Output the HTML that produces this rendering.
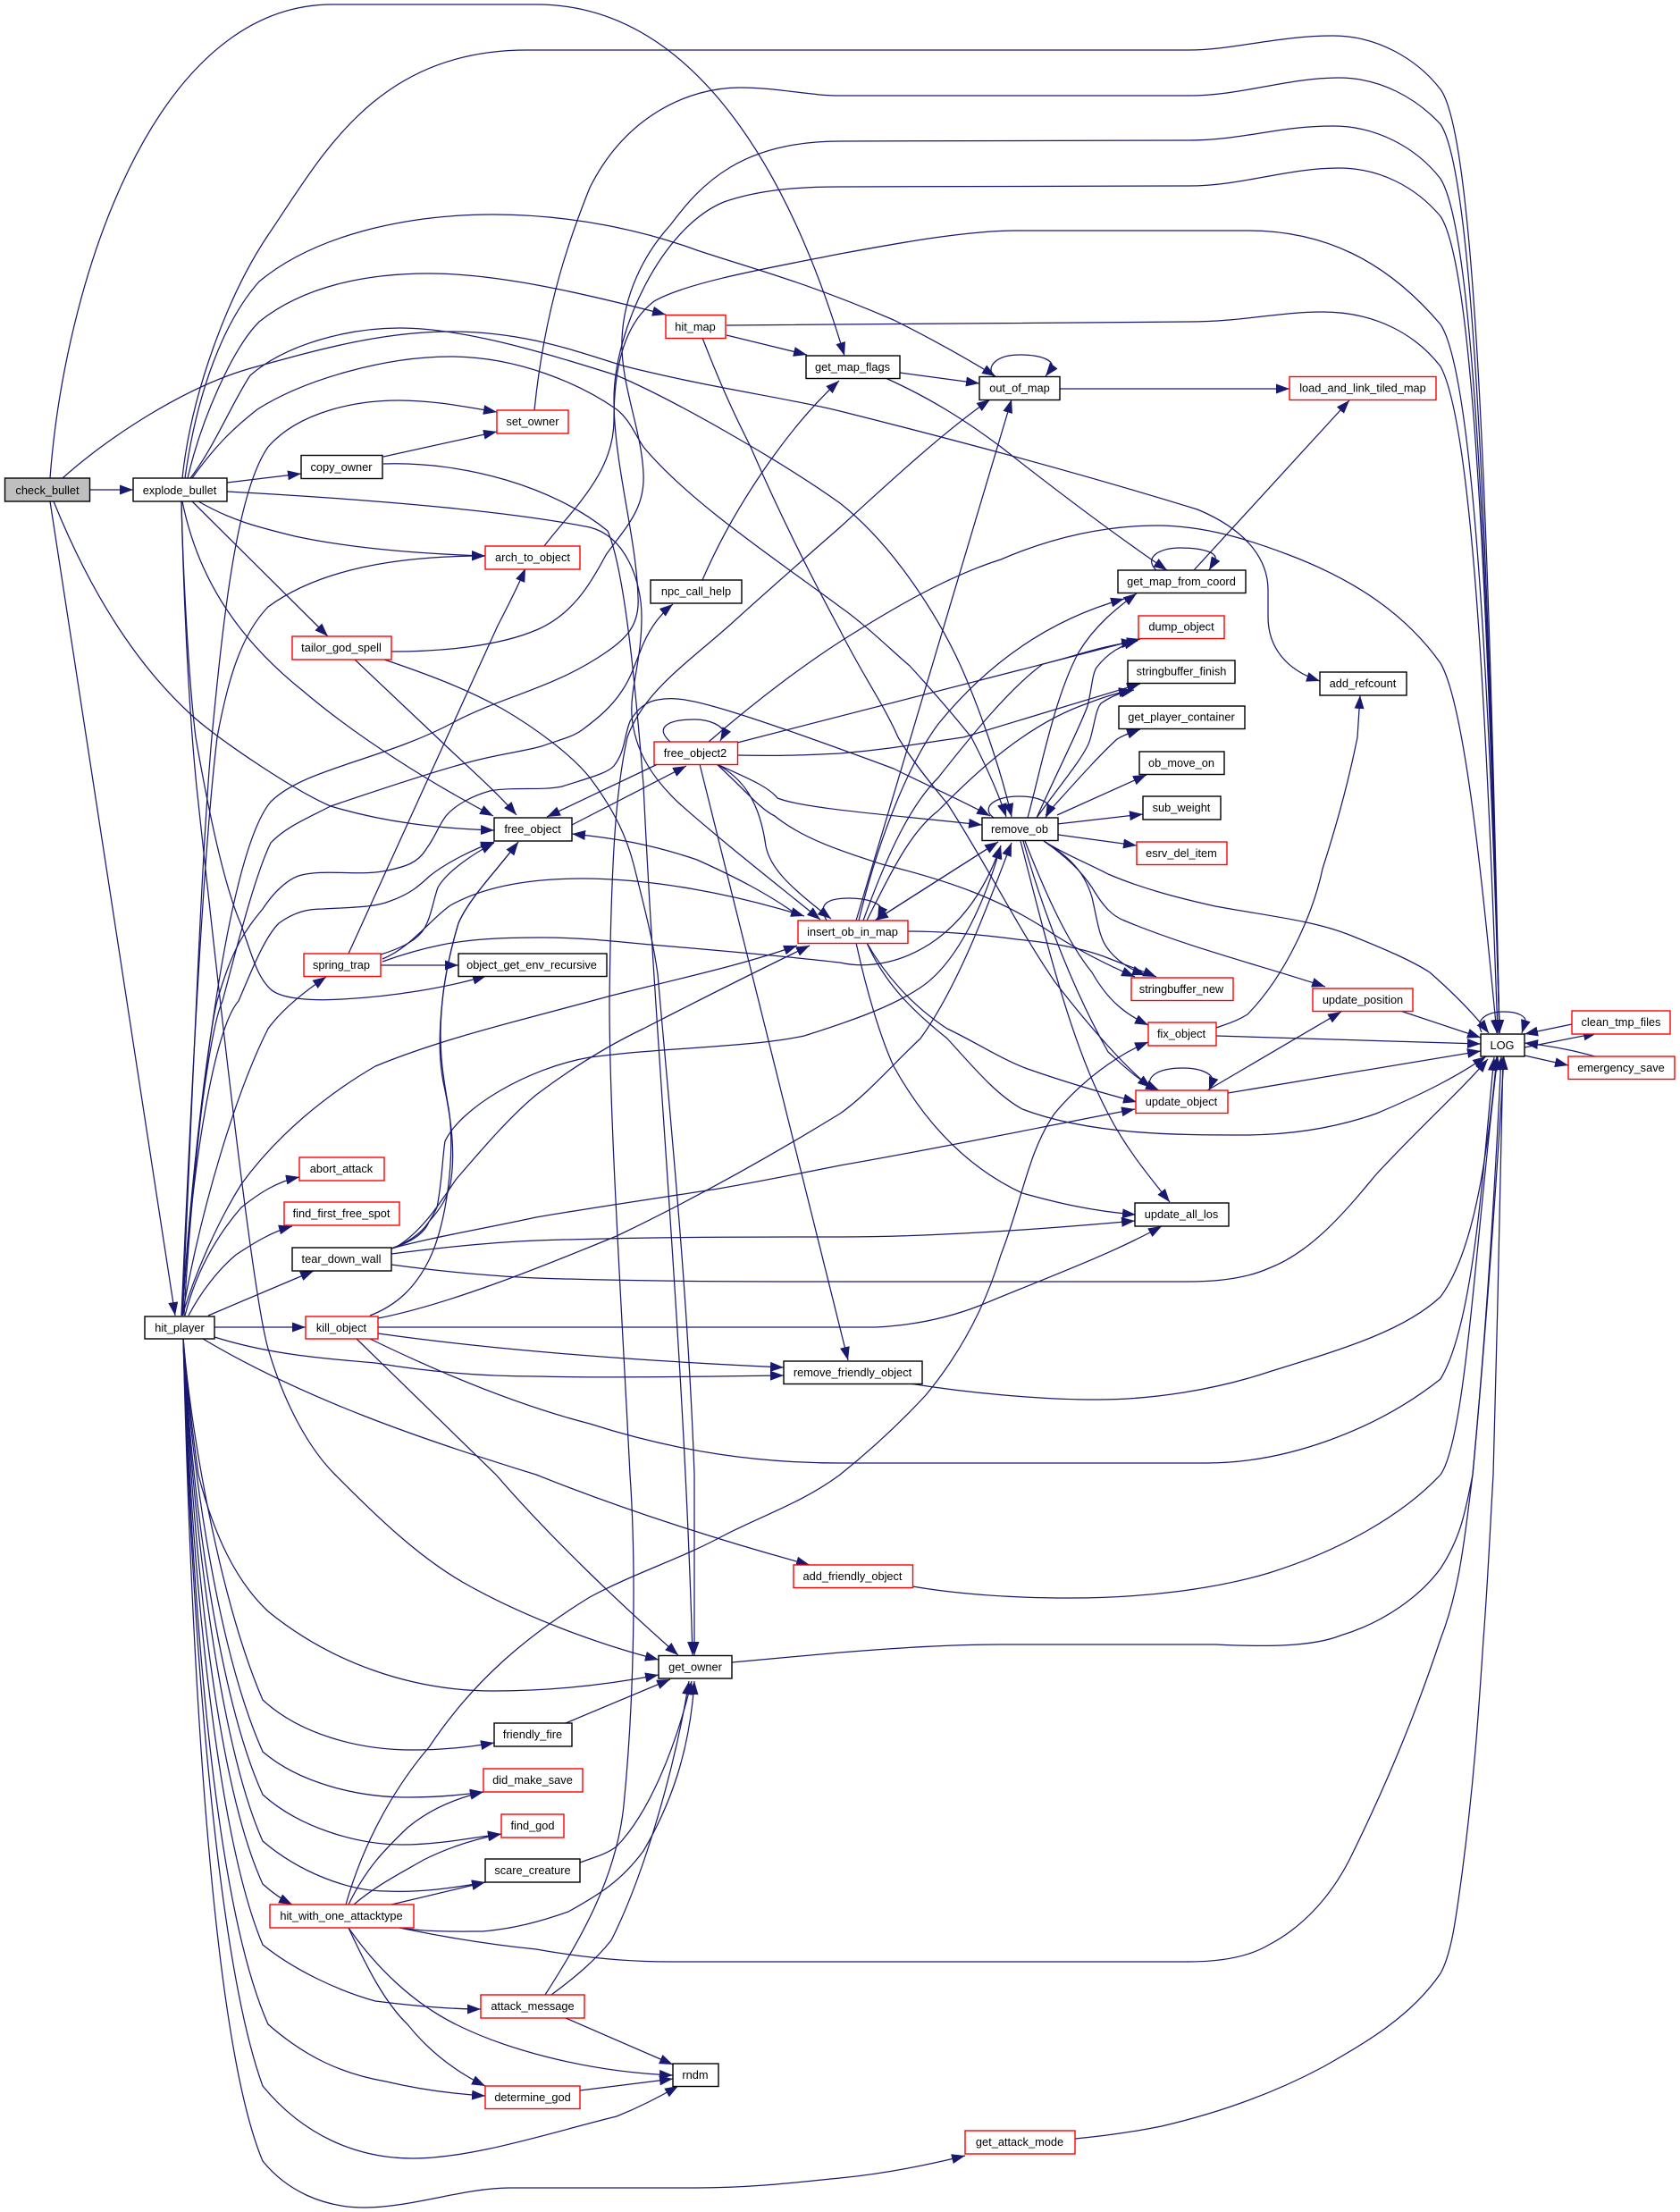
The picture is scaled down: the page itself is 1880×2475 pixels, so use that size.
<!DOCTYPE html>
<html><head><meta charset="utf-8"><title>check_bullet call graph</title>
<style>
html,body{margin:0;padding:0;background:#fff}
svg{display:block}
.e path{fill:none;stroke:#191970;stroke-width:1.25;marker-end:url(#a)}
.n rect{fill:#fff;stroke:#000;stroke-width:1.4}
.n rect.r{stroke:#f00}
.n rect.g{fill:#bfbfbf}
.n text{font-family:"Liberation Sans",sans-serif;font-size:12.8px;text-anchor:middle;fill:#000}
</style></head><body>
<svg xmlns="http://www.w3.org/2000/svg" width="1880" height="2475" viewBox="0 0 1880 2475">
<defs><marker id="a" markerUnits="userSpaceOnUse" markerWidth="15" markerHeight="11" refX="15" refY="5.5" orient="auto"><path d="M0,0L15,5.5L0,11z" fill="#191970"/></marker></defs>
<rect width="1880" height="2475" fill="#fff"/>
<g class="e">
<path d="M100,548L149,548"/>
<path d="M56,535C72,320 170,5 372,5L600,5C770,5 880,180 945,398"/>
<path d="M70,535C120,490 210,430 288,410C360,390 430,371 504,371C590,371 650,395 700,410C800,435 880,445 940,460C1080,495 1210,530 1340,570C1400,595 1419,630 1419,660L1419,690C1419,725 1440,750 1477,762"/>
<path d="M60,561C100,660 150,740 211,797C240,825 330,885 370,902C430,920 490,927 553,929"/>
<path d="M56,561L196,1472"/>
<path d="M254,540L337,530"/>
<path d="M429,511L556,483"/>
<path d="M429,519C520,516 620,545 680,594C700,640 712,780 720,878C735,1200 765,1500 775,1852"/>
<path d="M254,550C400,558 560,570 660,590C700,600 718,650 718,690C718,740 705,770 707,800C710,840 730,870 758,897C800,935 870,990 918,1029"/>
<path d="M222,561C260,583 290,590 330,600C400,615 480,620 543,622"/>
<path d="M215,561L367,712"/>
<path d="M204,561C220,640 260,710 339,773C400,825 480,875 552,913"/>
<path d="M203,561C205,650 210,780 220,880C235,1020 280,1440 300,1509C318,1570 345,1620 375,1650C420,1695 470,1745 528,1776C590,1810 670,1840 737,1857"/>
<path d="M204,535C214,440 255,330 300,263C360,175 420,56 590,56L1330,56C1380,56 1430,40 1492,40C1540,40 1585,65 1612,100C1652,155 1666,600 1678,1156"/>
<path d="M598,459C610,340 640,260 660,210C700,130 770,98 828,98C870,98 905,107 940,107L1330,107C1390,107 1440,87 1498,87C1545,87 1585,110 1612,139C1650,195 1665,620 1678,1156"/>
<path d="M438,729C500,729 560,722 600,705C640,688 660,655 678,621C700,590 722,570 720,530C718,480 694,430 696,379C698,330 720,285 750,252C785,205 830,158 940,158L1330,157C1390,157 1430,141 1492,141C1540,141 1585,165 1612,200C1650,260 1665,650 1678,1156"/>
<path d="M206,1472C215,1300 250,960 303,897C340,860 430,850 508,808C560,780 620,770 678,730C700,715 716,700 714,668C712,600 687,520 687,447C687,370 740,255 810,226C850,212 895,209 940,209L1330,208C1390,208 1440,188 1498,188C1545,188 1585,210 1612,242C1650,300 1665,680 1678,1156"/>
<path d="M609,611C640,570 687,530 687,470C687,420 695,365 732,337C770,315 870,298 940,284C1000,273 1080,258 1138,258L1396,258C1480,258 1550,290 1612,363C1650,420 1668,800 1678,1156"/>
<path d="M813,364L1330,360C1390,360 1430,349 1480,349C1540,349 1585,375 1612,410C1650,480 1665,850 1676,1156"/>
<path d="M793,830C830,798 880,757 940,718C1000,680 1060,645 1120,626C1180,600 1240,588 1294,588C1350,588 1400,605 1440,620C1520,650 1575,690 1612,742C1640,790 1660,1000 1675,1156"/>
<path d="M210,535C225,470 260,390 290,360C340,320 410,306 480,306C560,306 660,330 745,352"/>
<path d="M207,535C220,440 250,360 290,315C350,265 450,240 552,240C640,240 720,258 780,280C840,300 900,315 1000,358C1040,378 1080,400 1114,421"/>
<path d="M213,535C240,500 260,450 280,420C320,385 390,367 447,367C520,367 610,395 690,420C760,450 880,520 940,563C1000,610 1050,690 1075,745C1095,790 1120,860 1132,914"/>
<path d="M215,535C240,500 260,480 288,458C340,425 430,399 504,399C580,399 650,430 690,458C705,470 710,485 720,500C770,560 860,620 940,679C970,700 1000,730 1018,745C1050,780 1075,810 1087,825C1105,860 1118,890 1126,914"/>
<path d="M204,1472C215,1240 225,960 237,825C250,690 265,550 300,500C335,460 400,448 446,448C485,448 520,455 556,461"/>
<path d="M203,1472C215,1200 228,950 243,825C255,760 270,710 300,679C360,635 450,622 543,622"/>
<path d="M397,738L489,825C520,855 555,885 578,912"/>
<path d="M390,1067L557,700C570,675 580,655 588,636"/>
<path d="M430,738C480,755 520,770 562,793C600,815 640,845 660,870C690,910 702,940 709,967C725,1030 732,1060 736,1090C750,1250 770,1450 777,1650L777,1852"/>
<path d="M203,561C205,650 212,770 219,825C232,900 250,990 270,1035C285,1080 290,1095 303,1107C315,1118 350,1120 383,1118C440,1115 500,1105 544,1092"/>
<path d="M204,1472C215,1300 240,1150 267,1120C280,1090 295,1050 312,1033C330,1020 345,1017 361,1017C400,1015 420,1015 437,1008C460,1000 470,990 481,980C500,965 530,950 553,942"/>
<path d="M204,1472C215,1300 235,1150 243,1120C260,1060 275,1040 294,1017C305,1000 320,985 334,980C360,972 400,980 428,975C455,970 468,965 477,950C488,935 490,925 499,913C510,900 530,890 548,885C575,880 605,885 629,880C660,870 680,865 687,857C700,840 698,825 705,807C712,795 722,785 736,783C760,778 790,782 1000,860C1040,880 1075,895 1108,913"/>
<path d="M204,1472C215,1300 235,1150 249,1120C265,1060 285,980 303,943C320,925 345,915 370,902C420,885 480,865 517,855C550,845 580,842 606,835C625,828 640,825 651,817C670,803 685,790 696,773C705,760 710,745 716,730C725,705 738,688 753,676"/>
<path d="M426,1068C445,1062 462,1055 472,1043C482,1030 484,1010 490,993C500,975 530,955 553,943"/>
<path d="M428,1073C460,1060 480,1030 504,1013C545,990 600,983 651,983C730,983 820,1000 900,1025"/>
<path d="M428,1076C450,1068 470,1062 495,1057C530,1050 570,1049 606,1049C660,1049 700,1055 740,1058C810,1064 880,1070 940,1077C975,1085 1015,1075 1048,1051C1090,1020 1110,975 1120,946"/>
<path d="M426,1080L513,1080"/>
<path d="M640,923L768,857"/>
<path d="M738,854L612,914"/>
<path d="M750,830C733,815 745,805 777,805C795,805 808,812 811,820L806,829"/>
<path d="M825,831L1276,715"/>
<path d="M825,845C870,846 900,845 940,843C1000,838 1040,830 1078,825L1276,765"/>
<path d="M802,855C835,870 860,880 870,893C900,905 1000,912 1099,923"/>
<path d="M802,855C830,870 850,895 857,947C862,970 880,990 930,1028"/>
<path d="M802,855C830,880 850,905 867,913C900,940 950,955 987,967C1060,985 1120,1005 1180,1046C1210,1065 1240,1080 1270,1093"/>
<path d="M783,855L949,1522"/>
<path d="M894,1025C860,1000 820,980 780,962C730,945 690,938 640,933"/>
<path d="M925,1030C915,1012 925,1005 950,1005C970,1005 985,1010 987,1018L982,1029"/>
<path d="M979,1030L1117,942"/>
<path d="M1117,942L979,1030"/>
<path d="M958,1030L1132,447"/>
<path d="M961,1030C985,930 1020,850 1050,810C1085,767 1150,700 1258,670"/>
<path d="M966,1030C995,950 1020,900 1050,870C1087,823 1130,770 1167,743C1200,735 1235,722 1270,718"/>
<path d="M970,1030C1000,970 1020,930 1050,907C1093,863 1150,810 1217,787C1235,780 1250,775 1267,772"/>
<path d="M970,1055C990,1090 1020,1125 1060,1151C1090,1165 1120,1185 1150,1196C1190,1210 1230,1222 1272,1233"/>
<path d="M958,1055C970,1110 985,1160 1000,1193C1040,1265 1090,1310 1144,1335C1180,1345 1220,1355 1271,1359"/>
<path d="M970,1055C990,1100 1020,1130 1060,1162C1090,1195 1115,1225 1144,1241C1220,1270 1320,1270 1390,1270C1450,1270 1500,1260 1540,1246C1590,1225 1630,1205 1663,1182"/>
<path d="M1016,1042C1060,1042 1100,1046 1138,1051C1175,1055 1210,1060 1240,1072C1260,1080 1275,1085 1294,1093"/>
<path d="M1112,915C1098,905 1110,891 1140,891C1160,891 1175,897 1175,905L1170,915"/>
<path d="M1150,915C1165,860 1180,780 1207,730C1225,700 1250,680 1272,664"/>
<path d="M1160,915C1185,860 1210,810 1217,790C1222,770 1222,755 1227,747C1240,730 1255,722 1273,717"/>
<path d="M1160,915C1185,880 1215,845 1220,827C1226,805 1226,795 1232,787C1245,778 1255,775 1269,772"/>
<path d="M1170,912C1195,885 1225,850 1250,827C1258,822 1265,820 1276,816"/>
<path d="M1183,912L1283,867"/>
<path d="M1183,922L1279,911"/>
<path d="M1184,934L1272,946"/>
<path d="M1168,941C1190,955 1212,970 1222,1004C1228,1030 1230,1050 1240,1062C1250,1075 1265,1085 1282,1091"/>
<path d="M1168,941C1195,960 1210,975 1222,993C1235,1015 1245,1025 1258,1030C1330,1060 1410,1080 1483,1104"/>
<path d="M1147,941C1170,1000 1195,1055 1222,1088C1240,1120 1260,1135 1285,1147"/>
<path d="M1145,941C1170,1030 1205,1115 1240,1177C1260,1195 1275,1210 1297,1220"/>
<path d="M1142,941C1175,1070 1200,1170 1240,1246C1260,1285 1285,1315 1309,1345"/>
<path d="M1168,941C1190,955 1215,965 1240,978C1280,995 1320,1005 1360,1014C1420,1025 1470,1030 1510,1046C1550,1062 1580,1075 1600,1088C1625,1110 1650,1135 1666,1156"/>
<path d="M1361,1150C1375,1145 1385,1142 1396,1135C1440,1090 1470,1020 1480,972C1500,910 1512,860 1519,825L1522,778"/>
<path d="M1361,1159L1657,1168"/>
<path d="M1351,1220L1501,1132"/>
<path d="M1567,1131L1657,1161"/>
<path d="M1374,1223L1657,1176"/>
<path d="M1289,1220C1280,1205 1295,1195 1324,1195C1345,1195 1357,1202 1357,1209L1353,1220"/>
<path d="M1658,1155C1650,1140 1665,1132 1683,1132C1700,1132 1708,1138 1707,1143L1703,1156"/>
<path d="M1759,1146L1706,1157"/>
<path d="M1706,1172L1787,1156"/>
<path d="M1785,1182C1760,1175 1735,1170 1706,1167"/>
<path d="M1706,1181L1755,1192"/>
<path d="M1112,421C1103,410 1115,397 1141,397C1165,397 1180,403 1177,412L1170,421"/>
<path d="M1186,435L1443,435"/>
<path d="M1294,638C1280,625 1295,613 1321,613C1345,613 1362,618 1360,626L1353,638"/>
<path d="M1336,638L1510,448"/>
<path d="M1007,417L1096,429"/>
<path d="M991,423C1040,445 1080,470 1120,500C1190,555 1250,600 1306,638"/>
<path d="M813,375L903,397"/>
<path d="M786,378C810,440 825,470 840,500C870,570 905,640 940,705C965,755 990,790 1005,825C1020,850 1040,875 1060,899C1100,960 1140,1040 1180,1098C1220,1150 1260,1195 1288,1217"/>
<path d="M786,649C820,570 880,480 939,426"/>
<path d="M399,1498L555,1650C620,1725 700,1800 759,1852"/>
<path d="M227,1498C340,1565 470,1610 600,1650C700,1690 810,1725 906,1751"/>
<path d="M240,1496C300,1515 360,1520 420,1525C480,1535 540,1540 600,1540C690,1542 790,1540 877,1539"/>
<path d="M240,1485L342,1485"/>
<path d="M233,1472L351,1422"/>
<path d="M211,1472C225,1445 245,1420 264,1404C285,1390 305,1378 327,1372"/>
<path d="M207,1472C220,1420 245,1380 270,1351C290,1335 310,1322 335,1317"/>
<path d="M204,1472C225,1350 265,1220 300,1151C315,1130 340,1110 365,1093"/>
<path d="M204,1472C220,1420 245,1365 270,1325C310,1270 365,1225 420,1193C500,1160 590,1140 684,1114C760,1095 830,1080 892,1058"/>
<path d="M438,1397C480,1385 540,1375 600,1362C670,1350 740,1340 804,1330C850,1322 900,1312 940,1304C1050,1285 1160,1262 1270,1241"/>
<path d="M438,1403C500,1395 550,1390 600,1388C720,1384 830,1384 940,1384C1050,1384 1170,1375 1270,1366"/>
<path d="M438,1415C490,1422 550,1428 600,1430C720,1434 830,1434 940,1434L1330,1434C1370,1434 1400,1428 1420,1419C1470,1400 1510,1350 1540,1314C1590,1260 1635,1220 1665,1185"/>
<path d="M438,1397C470,1385 480,1370 489,1351C495,1320 495,1295 498,1277C515,1240 590,1195 660,1183C740,1172 840,1172 900,1159C960,1140 1000,1125 1030,1105C1075,1075 1105,1000 1120,946"/>
<path d="M440,1396C460,1390 475,1380 480,1367C495,1350 500,1340 504,1325C510,1290 505,1255 498,1220C492,1195 490,1165 495,1120C498,1090 505,1060 513,1033C525,1005 555,975 580,942"/>
<path d="M414,1472C445,1460 465,1440 480,1410C500,1370 510,1290 502,1240C495,1200 490,1170 495,1120C498,1090 505,1060 513,1033C525,1005 555,975 580,942"/>
<path d="M442,1396C470,1380 490,1350 510,1320C540,1285 570,1250 600,1225C640,1195 680,1170 720,1151C790,1115 850,1085 906,1058"/>
<path d="M423,1475C500,1460 600,1420 690,1383C780,1340 860,1295 940,1246C970,1225 1000,1190 1030,1162C1075,1100 1110,1000 1132,943"/>
<path d="M423,1485L980,1485C1020,1483 1060,1475 1096,1461C1170,1430 1240,1405 1300,1372"/>
<path d="M423,1492C550,1510 700,1522 877,1530"/>
<path d="M414,1498C480,1530 570,1570 660,1593C760,1625 850,1637 940,1637L1350,1637C1440,1637 1540,1600 1612,1543C1650,1480 1660,1300 1672,1183"/>
<path d="M819,1860L940,1849C1000,1844 1060,1840 1120,1840L1360,1840C1420,1843 1470,1842 1500,1830C1550,1815 1590,1785 1612,1755C1635,1720 1640,1690 1648,1650C1662,1500 1672,1350 1680,1182"/>
<path d="M1018,1548C1080,1558 1160,1566 1228,1566C1290,1566 1360,1555 1420,1535C1500,1510 1570,1490 1612,1451C1650,1400 1665,1290 1675,1182"/>
<path d="M1021,1775C1080,1785 1140,1788 1198,1788C1280,1788 1360,1778 1420,1760C1500,1735 1570,1695 1612,1650C1640,1610 1650,1400 1676,1182"/>
<path d="M447,2157C500,2168 550,2176 600,2181C650,2190 700,2195 750,2195L1330,2195C1370,2195 1400,2188 1420,2176C1460,2155 1490,2120 1510,2081C1560,1980 1590,1900 1612,1834C1635,1775 1640,1710 1648,1650C1662,1500 1675,1320 1683,1182"/>
<path d="M1203,2393C1235,2390 1270,2385 1300,2379C1360,2365 1420,2345 1480,2313C1530,2285 1580,2255 1612,2208C1625,2185 1630,2140 1636,2097C1650,1990 1655,1910 1660,1834C1665,1770 1668,1700 1671,1650C1675,1500 1680,1300 1682,1182"/>
<path d="M205,1497C215,1900 240,2290 294,2418C320,2450 360,2470 408,2470C460,2470 520,2448 570,2448L780,2448C840,2448 890,2442 940,2437C990,2432 1040,2422 1080,2412"/>
<path d="M205,1497C215,1850 245,2200 294,2334C340,2390 400,2415 462,2415C530,2415 620,2385 690,2368C715,2358 735,2348 759,2334"/>
<path d="M205,1497C215,1800 240,2130 300,2265C340,2300 380,2320 432,2329C470,2338 510,2343 543,2345"/>
<path d="M205,1497C215,1780 245,2060 294,2176C330,2205 380,2228 420,2239C460,2244 500,2248 538,2248"/>
<path d="M205,1497C215,1720 240,1990 294,2108C305,2118 315,2125 327,2131"/>
<path d="M205,1497C215,1700 245,1950 294,2060C335,2095 390,2116 432,2116C470,2118 510,2112 543,2106"/>
<path d="M205,1497C215,1680 245,1900 294,2008C335,2045 400,2064 450,2064C490,2064 530,2056 561,2052"/>
<path d="M205,1497C215,1650 245,1850 294,1960C335,1995 400,2011 456,2011C490,2011 520,2008 541,2005"/>
<path d="M205,1497C215,1620 250,1800 294,1902C335,1940 400,1958 462,1958C495,1958 525,1955 553,1950"/>
<path d="M205,1497C212,1580 218,1620 222,1650C240,1720 265,1770 300,1803C370,1860 460,1892 552,1892C620,1892 680,1885 737,1874"/>
<path d="M633,1928L750,1879"/>
<path d="M649,2084C665,2078 678,2075 690,2066C725,2030 755,1960 774,1881"/>
<path d="M447,2157C480,2162 510,2161 540,2161C575,2158 605,2150 636,2139C670,2120 695,2105 720,2071C750,2020 772,1960 777,1881"/>
<path d="M617,2232C640,2215 665,2195 684,2171C720,2100 755,1980 771,1881"/>
<path d="M610,2232C650,2170 690,2100 698,2020C710,1900 712,1750 705,1650C695,1450 682,1250 682,1120C684,950 690,880 702,825C720,775 765,745 816,700C860,660 900,625 940,590C1000,535 1060,480 1108,447"/>
<path d="M390,2131C410,2090 430,2070 456,2045C480,2025 510,2012 541,2005"/>
<path d="M396,2131C420,2110 450,2095 474,2081C500,2068 530,2058 561,2052"/>
<path d="M438,2131L543,2106"/>
<path d="M387,2131C410,2050 450,1990 480,1955C530,1880 590,1830 660,1787C710,1760 760,1745 810,1718C855,1695 900,1680 940,1650C965,1630 1000,1600 1036,1561C1070,1520 1100,1470 1120,1404C1145,1340 1150,1290 1180,1246C1210,1210 1250,1180 1285,1166"/>
<path d="M390,2157C420,2200 460,2240 510,2265C560,2290 650,2318 753,2322"/>
<path d="M390,2157C410,2200 430,2240 456,2265C480,2295 510,2318 543,2334"/>
<path d="M633,2258L753,2310"/>
<path d="M649,2339L753,2326"/>
</g>
<g class="n">
<rect class="g" x="5.5" y="535" width="95" height="26"/><text x="53" y="553">check_bullet</text>
<rect x="149" y="535" width="105" height="26"/><text x="201" y="553">explode_bullet</text>
<rect x="337" y="509.5" width="91" height="26"/><text x="382" y="527">copy_owner</text>
<rect class="r" x="556" y="459" width="80" height="26"/><text x="596" y="476">set_owner</text>
<rect class="r" x="745" y="352.5" width="67" height="26"/><text x="778" y="370">hit_map</text>
<rect class="r" x="543" y="611" width="106" height="26"/><text x="596" y="628">arch_to_object</text>
<rect x="728" y="649" width="102" height="26"/><text x="779" y="666">npc_call_help</text>
<rect class="r" x="327" y="712" width="111" height="26"/><text x="382" y="729">tailor_god_spell</text>
<rect x="902" y="398" width="105" height="25.5"/><text x="954" y="415">get_map_flags</text>
<rect x="1096" y="421.5" width="90" height="26"/><text x="1141" y="438.5">out_of_map</text>
<rect class="r" x="1443" y="421.5" width="164" height="26"/><text x="1525" y="438.5">load_and_link_tiled_map</text>
<rect x="1251" y="638" width="143" height="25.5"/><text x="1322" y="655">get_map_from_coord</text>
<rect class="r" x="1274" y="689" width="96" height="25.5"/><text x="1322" y="705.5">dump_object</text>
<rect x="1262" y="739" width="120" height="25.5"/><text x="1322" y="755.5">stringbuffer_finish</text>
<rect x="1252" y="790" width="141" height="25.5"/><text x="1322" y="806.5">get_player_container</text>
<rect x="1477" y="752" width="97" height="26"/><text x="1525" y="769">add_refcount</text>
<rect class="r" x="732" y="830" width="93.5" height="25.5"/><text x="778" y="847">free_object2</text>
<rect x="553" y="915" width="87" height="26"/><text x="596" y="932">free_object</text>
<rect class="r" x="893" y="1030" width="123" height="25.5"/><text x="954" y="1047">insert_ob_in_map</text>
<rect class="r" x="340" y="1067" width="86" height="25.5"/><text x="382" y="1084">spring_trap</text>
<rect x="513" y="1067" width="166" height="25.5"/><text x="595" y="1084">object_get_env_recursive</text>
<rect class="r" x="335" y="1295" width="95" height="26"/><text x="382" y="1312">abort_attack</text>
<rect class="r" x="318" y="1345" width="129" height="26"/><text x="382" y="1362">find_first_free_spot</text>
<rect x="327" y="1396" width="111" height="26"/><text x="382" y="1413">tear_down_wall</text>
<rect x="162" y="1473" width="78" height="25"/><text x="201" y="1490">hit_player</text>
<rect class="r" x="342" y="1473" width="81" height="25"/><text x="382" y="1490">kill_object</text>
<rect x="877" y="1523" width="155" height="25.5"/><text x="954" y="1540">remove_friendly_object</text>
<rect x="1275" y="841" width="95" height="25.5"/><text x="1322" y="858">ob_move_on</text>
<rect x="1279" y="891" width="87" height="26"/><text x="1322" y="908">sub_weight</text>
<rect x="1099" y="915" width="85" height="25.5"/><text x="1141" y="932">remove_ob</text>
<rect class="r" x="1272" y="942" width="101" height="25.5"/><text x="1322" y="959">esrv_del_item</text>
<rect class="r" x="1266" y="1094" width="114" height="25.5"/><text x="1322" y="1111">stringbuffer_new</text>
<rect class="r" x="1469" y="1106" width="112" height="25.5"/><text x="1525" y="1123">update_position</text>
<rect class="r" x="1285" y="1144" width="76" height="26"/><text x="1322" y="1161">fix_object</text>
<rect class="r" x="1759" y="1131" width="110" height="26"/><text x="1814" y="1148">clean_tmp_files</text>
<rect x="1657" y="1157" width="49" height="25"/><text x="1681" y="1174">LOG</text>
<rect class="r" x="1755" y="1182" width="119" height="25.5"/><text x="1814" y="1199">emergency_save</text>
<rect class="r" x="1271" y="1220" width="103" height="25.5"/><text x="1322" y="1237">update_object</text>
<rect x="1270" y="1346" width="105" height="26"/><text x="1322" y="1363">update_all_los</text>
<rect class="r" x="888" y="1751" width="133.5" height="25.5"/><text x="954" y="1768">add_friendly_object</text>
<rect x="737" y="1852.5" width="82" height="25.5"/><text x="778" y="1869.5">get_owner</text>
<rect x="553" y="1928" width="87" height="26"/><text x="596" y="1945">friendly_fire</text>
<rect class="r" x="541" y="1979" width="111" height="26"/><text x="596" y="1996">did_make_save</text>
<rect class="r" x="561" y="2030" width="70" height="26"/><text x="596" y="2047">find_god</text>
<rect x="543" y="2080" width="106" height="26"/><text x="596" y="2097">scare_creature</text>
<rect class="r" x="302" y="2131" width="161" height="26"/><text x="382" y="2148">hit_with_one_attacktype</text>
<rect class="r" x="538" y="2232" width="116" height="26"/><text x="596" y="2249">attack_message</text>
<rect x="753" y="2309" width="51" height="25.5"/><text x="778" y="2326">rndm</text>
<rect class="r" x="543" y="2334" width="106" height="25.5"/><text x="596" y="2351">determine_god</text>
<rect class="r" x="1080" y="2384" width="123" height="26"/><text x="1141" y="2401">get_attack_mode</text>
</g>
</svg>
</body></html>
